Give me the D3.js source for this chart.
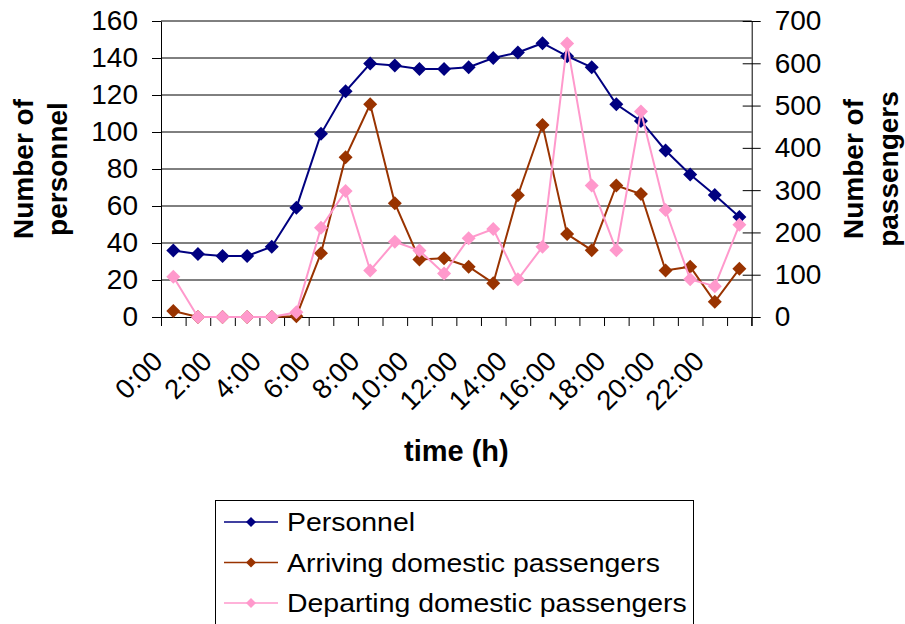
<!DOCTYPE html>
<html>
<head>
<meta charset="utf-8">
<script src="https://cdn.jsdelivr.net/npm/d3@7/dist/d3.min.js"></script>
<style>
  html, body { margin: 0; padding: 0; background: #fff; }
  svg { display: block; font-family: "Liberation Sans", Arial, sans-serif; }
</style>
</head>
<body>
<svg id="chart" width="905" height="624"></svg>
<script>
// Hourly categories and tick labels
const hours = ["0:00","1:00","2:00","3:00","4:00","5:00","6:00","7:00","8:00","9:00","10:00","11:00",
               "12:00","13:00","14:00","15:00","16:00","17:00","18:00","19:00","20:00","21:00","22:00","23:00"];
const hourLabels = ["0:00","2:00","4:00","6:00","8:00","10:00","12:00","14:00","16:00","18:00","20:00","22:00"];

// Series (personnel on the left axis, passengers on the right axis)
const personnel = [36, 34, 33, 33, 38, 59, 99, 122, 137, 136, 134, 134, 135, 140, 143, 148, 141, 135, 115, 106, 90, 77, 66, 54];
const arriving  = [14, 0, 0, 0, 0, 2, 151, 378, 503, 269, 136, 139, 119, 80, 288, 454, 196, 158, 311, 291, 110, 119, 36, 114];
const departing = [95, 0, 0, 0, 0, 11, 211, 298, 110, 178, 157, 103, 186, 208, 89, 166, 647, 311, 158, 486, 253, 89, 73, 218];

const leftTicks  = [0, 20, 40, 60, 80, 100, 120, 140, 160];
const rightTicks = [0, 100, 200, 300, 400, 500, 600, 700];

const seriesNames = ["Personnel", "Arriving domestic passengers", "Departing domestic passengers"];
const seriesColors = ["#000080", "#993300", "#FF99CC"];

const svg = d3.select("#chart");
const L = 161, R = 751.7, T = 21, B = 317;

const x = d3.scaleBand().domain(hours).range([L, R]).paddingInner(0).paddingOuter(0);
const xIdx = d3.scaleLinear().domain([0, hours.length]).range([L, R]);
const yL = d3.scaleLinear().domain([0, 160]).range([B, T]);
const yR = d3.scaleLinear().domain([0, 700]).range([B, T]);

// Horizontal gridlines on the personnel scale
svg.append("g")
  .selectAll("line")
  .data(leftTicks.filter(d => d > 0))
  .join("line")
  .attr("x1", L).attr("x2", R)
  .attr("y1", d => yL(d)).attr("y2", d => yL(d))
  .attr("stroke", "#000").attr("stroke-width", 1);

// Left axis
const gL = svg.append("g").attr("transform", `translate(${L},0)`)
  .call(d3.axisLeft(yL).tickValues(leftTicks).tickSize(9).tickSizeOuter(0).tickPadding(14));
gL.select(".domain").attr("stroke", "#000");
gL.selectAll(".tick line").attr("stroke", "#000");
gL.selectAll(".tick text").attr("font-size", 28).attr("fill", "#000");

// Right axis (ticks cross the axis line)
const gR = svg.append("g").attr("transform", `translate(${R},0)`)
  .call(d3.axisRight(yR).tickValues(rightTicks).tickSize(9).tickSizeOuter(0).tickPadding(14));
gR.select(".domain").attr("stroke", "#000");
gR.selectAll(".tick line").attr("x1", -9).attr("stroke", "#000");
gR.selectAll(".tick text").attr("font-size", 28).attr("fill", "#000");
gR.append("line").attr("x1", 0).attr("x2", 0).attr("y1", B).attr("y2", B + 9).attr("stroke", "#000");

// Bottom axis: ticks on category boundaries
const gB = svg.append("g").attr("transform", `translate(0,${B})`)
  .call(d3.axisBottom(xIdx).tickValues(d3.range(hours.length + 1)).tickSize(9).tickSizeOuter(0).tickFormat(""));
gB.select(".domain").attr("stroke", "#000");
gB.selectAll(".tick line").attr("stroke", "#000");

// Rotated hour labels
svg.append("g")
  .selectAll("text")
  .data(hourLabels)
  .join("text")
  .attr("transform", d => `translate(${x(d) + x.bandwidth() / 2 - 9},${B + 46}) rotate(-45)`)
  .attr("text-anchor", "end")
  .attr("font-size", 27.5)
  .attr("fill", "#000")
  .text(d => d);

// Axis titles
svg.append("text")
  .attr("x", (L + R) / 2).attr("y", 461)
  .attr("text-anchor", "middle").attr("font-size", 29).attr("font-weight", "bold")
  .text("time (h)");

const leftTitle = svg.append("text")
  .attr("transform", `translate(33,${(T + B) / 2}) rotate(-90)`)
  .attr("text-anchor", "middle").attr("font-size", 28).attr("font-weight", "bold");
leftTitle.append("tspan").attr("x", 0).attr("y", 0).text("Number of");
leftTitle.append("tspan").attr("x", 0).attr("y", 34).text("personnel");

const rightTitle = svg.append("text")
  .attr("transform", `translate(863,${(T + B) / 2}) rotate(-90)`)
  .attr("text-anchor", "middle").attr("font-size", 28).attr("font-weight", "bold");
rightTitle.append("tspan").attr("x", 0).attr("y", 0).text("Number of");
rightTitle.append("tspan").attr("x", 0).attr("y", 35).text("passengers");

// Lines and diamond markers
const diamond = r => `M0,${-r}L${r},0L0,${r}L${-r},0Z`;
const cx = d => x(d) + x.bandwidth() / 2;

const series = [
  { values: personnel, y: yL, color: seriesColors[0] },
  { values: arriving,  y: yR, color: seriesColors[1] },
  { values: departing, y: yR, color: seriesColors[2] }
];

series.forEach(s => {
  const pts = hours.map((h, i) => [cx(h), s.y(s.values[i])]);
  svg.append("path")
    .attr("d", d3.line()(pts))
    .attr("fill", "none").attr("stroke", s.color).attr("stroke-width", 2);
  svg.append("g").selectAll("path")
    .data(pts).join("path")
    .attr("transform", p => `translate(${p[0]},${p[1]})`)
    .attr("d", diamond(7))
    .attr("fill", s.color);
});

// Legend
const lg = svg.append("g");
lg.append("rect").attr("x", 215.5).attr("y", 500.5).attr("width", 478).attr("height", 140)
  .attr("fill", "#fff").attr("stroke", "#000").attr("stroke-width", 1);
const rowY = [522, 562.5, 603];
seriesNames.forEach((name, i) => {
  lg.append("line").attr("x1", 224).attr("x2", 278).attr("y1", rowY[i]).attr("y2", rowY[i])
    .attr("stroke", seriesColors[i]).attr("stroke-width", 1.5);
  lg.append("path").attr("transform", `translate(251,${rowY[i]})`).attr("d", diamond(5)).attr("fill", seriesColors[i]);
  lg.append("text")
    .attr("transform", `translate(287,${rowY[i] + 9}) scale(1.115,1)`)
    .attr("font-size", 25.5).attr("fill", "#000")
    .text(name);
});
</script>
</body>
</html>
